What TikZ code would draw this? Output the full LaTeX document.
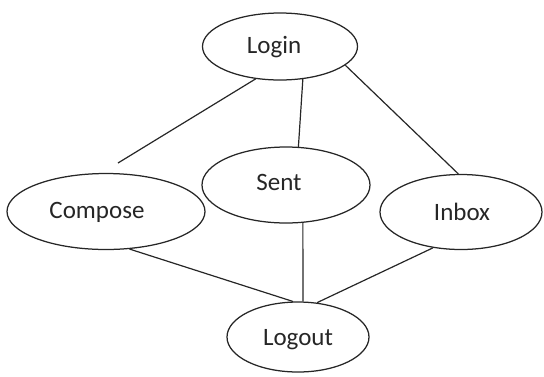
\documentclass[tikz,border=0pt]{standalone}
\usepackage{fontspec}
\setmainfont{Carlito}
\usetikzlibrary{shapes.geometric}

\tikzset{
  oval/.style={ellipse, draw=black!85, line width=1.25pt, inner sep=0pt, fill=white},
  caption/.style={font=\fontsize{25}{28}\selectfont, text=black!85, inner sep=0pt},
  link/.style={draw=black!85, line width=1.2pt}
}

\begin{document}
\begin{tikzpicture}[x=1pt, y=-1pt]
  \useasboundingbox (0,0) rectangle (544,376);

  % states
  \node[oval, minimum width=155pt, minimum height=67pt] (login)   at (280,46.5) {};
  \node[oval, minimum width=198pt, minimum height=76pt] (compose) at (106,211.5) {};
  \node[oval, minimum width=168pt, minimum height=76pt] (sent)    at (286,185) {};
  \node[oval, minimum width=162pt, minimum height=75pt] (inbox)   at (461,212) {};
  \node[oval, minimum width=142pt, minimum height=70pt] (logout)  at (298,337) {};

  % state names
  \node[caption] (login-t)   at (274,47)  {Login};
  \node[caption] (compose-t) at (97,212)  {Compose};
  \node[caption] (sent-t)    at (279,182) {Sent};
  \node[caption] (inbox-t)   at (462,212) {Inbox};
  \node[caption] (logout-t)  at (298,340) {Logout};

  % loose end of the Login--Compose link
  \coordinate (compose-gap) at (118,163);

  % links
  \draw[link] (login.233)   -- (compose-gap);
  \draw[link] (login.305.7) -- (sent.72.5);
  \draw[link] (login.344.5) -- (inbox.94.5);
  \draw[link] (compose.302.6) -- (logout.98);
  \draw[link] (sent.294)    -- (logout.82);
  \draw[link] (inbox.232.6) -- (logout.61.5);
\end{tikzpicture}
\end{document}
